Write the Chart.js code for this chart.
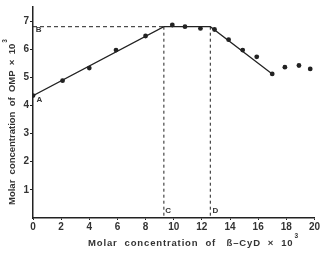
<!DOCTYPE html>
<html>
<head>
<meta charset="utf-8">
<script src="https://cdn.jsdelivr.net/npm/chart.js@4"></script>
<style>
  html, body { margin: 0; padding: 0; background: #fff; }
  #wrap { width: 321px; height: 254px; }
</style>
</head>
<body>
<div id="wrap"><canvas id="chart" width="321" height="254"></canvas></div>
<script>
// measured points: beta-CyD (x 10^3) vs OMP (x 10^3)
const cydConc = [0, 2.1, 4, 5.9, 8, 9.9, 10.8, 11.9, 12.9, 13.9, 14.9, 15.9, 17, 17.9, 18.9, 19.7];
const ompConc = [4.35, 4.88, 5.33, 5.97, 6.47, 6.86, 6.8, 6.74, 6.7, 6.34, 5.97, 5.73, 5.12, 5.36, 5.42, 5.3];

// drawn fit line
const fitX = [0, 9.3, 12.6, 17];
const fitY = [4.35, 6.8, 6.8, 5.12];

// dashed guides (C and D drop lines, B level)
const levelB = 6.8;
const pointC = 9.3;
const pointD = 12.6;

const xTicks = [0, 2, 4, 6, 8, 10, 12, 14, 16, 18, 20];
const yTicks = [1, 2, 3, 4, 5, 6, 7];

const letters = [
  { text: "A", x: 0.25, y: 4.05 },
  { text: "B", x: 0.2, y: 6.55 },
  { text: "C", x: 9.4, y: 0.1 },
  { text: "D", x: 12.75, y: 0.1 }
];

const ink = "#222";
const textInk = "#333";
const font = "'Liberation Sans', 'DejaVu Sans', sans-serif";

const pts = cydConc.map((x, i) => ({ x, y: ompConc[i] }));
const fit = fitX.map((x, i) => ({ x, y: fitY[i] }));

const extras = {
  id: "extras",
  afterDatasetsDraw(chart) {
    const { ctx, scales: { x, y } } = chart;
    ctx.save();
    ctx.strokeStyle = ink;
    ctx.lineWidth = 1;
    ctx.setLineDash([4, 3]);
    ctx.beginPath();
    ctx.moveTo(x.getPixelForValue(0), y.getPixelForValue(levelB));
    ctx.lineTo(x.getPixelForValue(pointC), y.getPixelForValue(levelB));
    ctx.stroke();
    ctx.setLineDash([3, 3]);
    for (const v of [pointC, pointD]) {
      ctx.beginPath();
      ctx.moveTo(x.getPixelForValue(v), y.getPixelForValue(levelB));
      ctx.lineTo(x.getPixelForValue(v), y.getPixelForValue(0));
      ctx.stroke();
    }
    ctx.setLineDash([]);

    ctx.fillStyle = textInk;
    ctx.font = "bold 8px " + font;
    ctx.textBaseline = "bottom";
    ctx.textAlign = "left";
    for (const l of letters) {
      ctx.fillText(l.text, x.getPixelForValue(l.x), y.getPixelForValue(l.y));
    }

    // axis titles
    ctx.textBaseline = "alphabetic";
    ctx.textAlign = "left";
    ctx.font = "bold 9.5px " + font;
    ctx.letterSpacing = "0.85px";
    const xt = "Molar  concentration  of   \u00DF\u2013CyD  \u00D7  10";
    const xw = ctx.measureText(xt).width;
    const x0 = 88;
    ctx.fillText(xt, x0, 246);
    ctx.font = "bold 6.5px " + font;
    ctx.fillText("3", x0 + xw + 1, 238);

    ctx.letterSpacing = "0px";
    ctx.translate(15, 205);
    ctx.rotate(-Math.PI / 2);
    ctx.font = "bold 9.5px " + font;
    const yt = "Molar  concentration  of  OMP  \u00D7  10";
    const yw = ctx.measureText(yt).width;
    ctx.fillText(yt, 0, 0);
    ctx.font = "bold 6.5px " + font;
    ctx.fillText("3", yw + 1, -8);
    ctx.restore();
  }
};

new Chart(document.getElementById("chart"), {
  type: "scatter",
  data: {
    datasets: [
      {
        label: "OMP",
        data: pts,
        backgroundColor: ink,
        borderColor: ink,
        pointRadius: 2.4,
        pointBorderWidth: 0
      },
      {
        label: "fit",
        type: "line",
        data: fit,
        borderColor: ink,
        borderWidth: 1.2,
        pointRadius: 0,
        fill: false,
        tension: 0
      }
    ]
  },
  plugins: [extras],
  options: {
    responsive: false,
    animation: false,
    layout: { padding: { top: 0, right: 2, left: 0, bottom: 0 } },
    plugins: { legend: { display: false }, tooltip: { enabled: false } },
    scales: {
      x: {
        type: "linear",
        min: 0,
        max: 20,
        afterBuildTicks: s => { s.ticks = xTicks.map(v => ({ value: v })); },
        afterFit: s => { s.height = 36; },
        border: { color: ink, width: 1.5 },
        grid: { drawOnChartArea: false, tickLength: 2, color: ink },
        ticks: { color: textInk, padding: 1, maxRotation: 0, font: { family: font, size: 10, weight: "bold" } }
      },
      y: {
        type: "linear",
        min: 0,
        max: 7.5,
        afterBuildTicks: s => { s.ticks = yTicks.map(v => ({ value: v })); },
        afterFit: s => { s.width = 33; },
        border: { color: ink, width: 1.5 },
        grid: { drawOnChartArea: false, tickLength: 3, color: ink },
        ticks: { color: textInk, padding: 1, font: { family: font, size: 10, weight: "bold" } }
      }
    }
  }
});
</script>
</body>
</html>
